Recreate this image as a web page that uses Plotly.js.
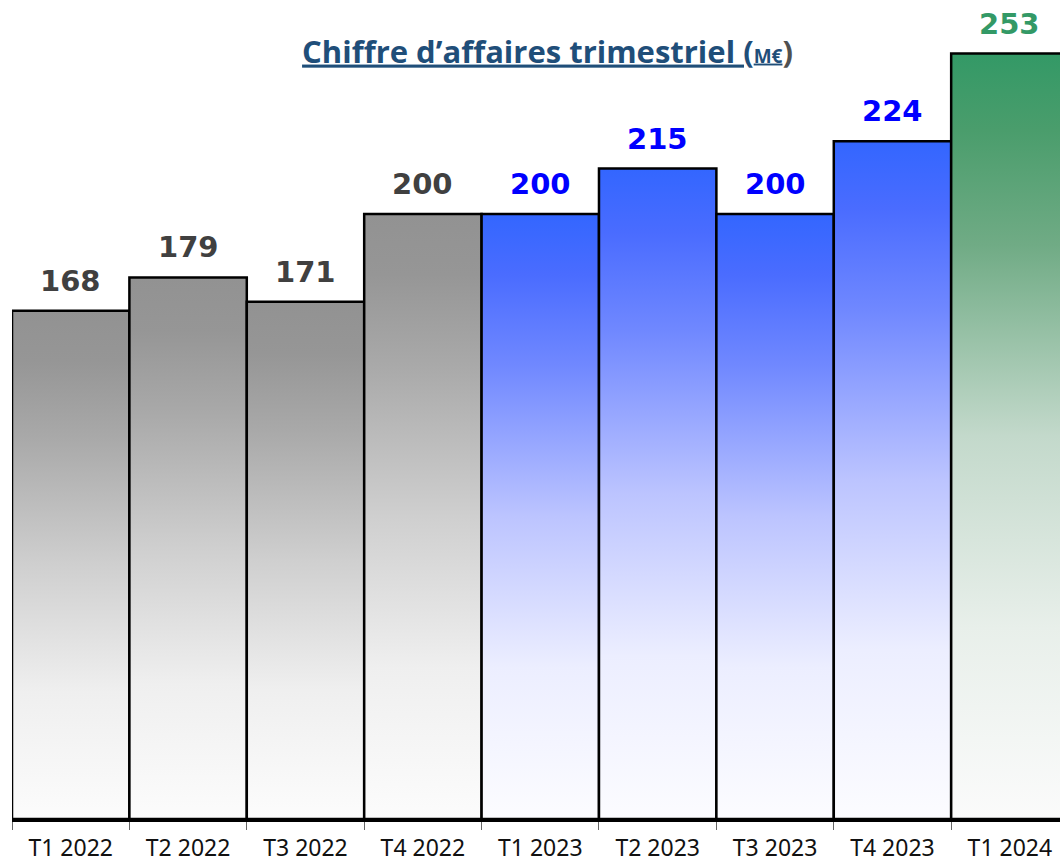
<!DOCTYPE html>
<html>
<head>
<meta charset="utf-8">
<script src="https://cdn.plot.ly/plotly-3.0.1.min.js"></script>
<style>
html,body{margin:0;padding:0;background:#fff;}
#chart{width:1060px;height:862px;}
</style>
</head>
<body>
<div id="chart"></div>
<script>
// Data
const categories = ['T1 2022','T2 2022','T3 2022','T4 2022','T1 2023','T2 2023','T3 2023','T4 2023','T1 2024'];
const values = [168, 179, 171, 200, 200, 215, 200, 224, 253];
const groups = ['2022','2022','2022','2022','2023','2023','2023','2023','2024'];

// Styles by group
const gradients = {
  '2022': [[0,'#fcfcfc'],[0.25,'#efefef'],[0.5,'#cfcfcf'],[0.75,'#a9a9a9'],[0.9,'#969696'],[1,'#929292']],
  '2023': [[0,'#fcfcff'],[0.25,'#eceeff'],[0.5,'#bcc4ff'],[0.75,'#7088ff'],[0.9,'#4a6cff'],[1,'#3366ff']],
  '2024': [[0,'#fbfbfb'],[0.25,'#e8efea'],[0.5,'#c3d9cb'],[0.75,'#70ab85'],[0.9,'#4a9d6c'],[1,'#339966']]
};
const labelColors = {'2022':'#404040','2023':'#0000ff','2024':'#339966'};

const traces = values.map((v, i) => ({
  type: 'scatter',
  mode: 'lines',
  x: [i - 0.5, i - 0.5, i + 0.5, i + 0.5, i - 0.5],
  y: [0, v, v, 0, 0],
  fill: 'toself',
  fillgradient: {type: 'vertical', start: 0, stop: v, colorscale: gradients[groups[i]]},
  line: {color: '#000000', width: 2.5},
  hoverinfo: 'skip',
  showlegend: false
}));

const annotations = values.map((v, i) => ({
  x: i, y: v, xref: 'x', yref: 'y',
  text: String(v),
  showarrow: false,
  yanchor: 'bottom',
  yshift: 11,
  font: {family: 'DejaVu Sans', size: 29, weight: 'bold', color: labelColors[groups[i]]}
}));

const boundaries = categories.map((c, i) => i - 0.5).concat([categories.length - 0.5]);

const layout = {
  width: 1060, height: 862,
  margin: {l: 12, r: 0, t: 0, b: 43},
  paper_bgcolor: '#ffffff',
  plot_bgcolor: '#ffffff',
  showlegend: false,
  hovermode: false,
  title: {
    text: '<u>Chiffre d’affaires trimestriel (<span style="font-size:19px">M€</span></u><span style="color:#505050">)</span>',
    font: {family: 'Open Sans', size: 31, weight: 'bold', color: '#1f4e79'},
    xref: 'paper', x: 0.511, xanchor: 'center',
    yref: 'container', y: 0.94, yanchor: 'middle'
  },
  xaxis: {
    type: 'linear',
    range: [-0.5, 8.427],
    tickmode: 'array',
    tickvals: categories.map((c, i) => i),
    ticktext: categories,
    ticks: '',
    ticklabelstandoff: 6,
    showgrid: false,
    zeroline: false,
    showline: true,
    linecolor: '#000000',
    linewidth: 3,
    tickfont: {family: 'Noto Sans', size: 23, color: '#111111'},
    minor: {tickmode: 'array', tickvals: boundaries, ticks: 'outside', ticklen: 8, tickwidth: 1, tickcolor: '#666666', showgrid: false},
    fixedrange: true
  },
  yaxis: {
    range: [0, 270.7],
    visible: false,
    showgrid: false,
    zeroline: false,
    fixedrange: true
  },
  annotations: annotations
};

Plotly.newPlot('chart', traces, layout, {displayModeBar: false, staticPlot: true});
</script>
</body>
</html>
